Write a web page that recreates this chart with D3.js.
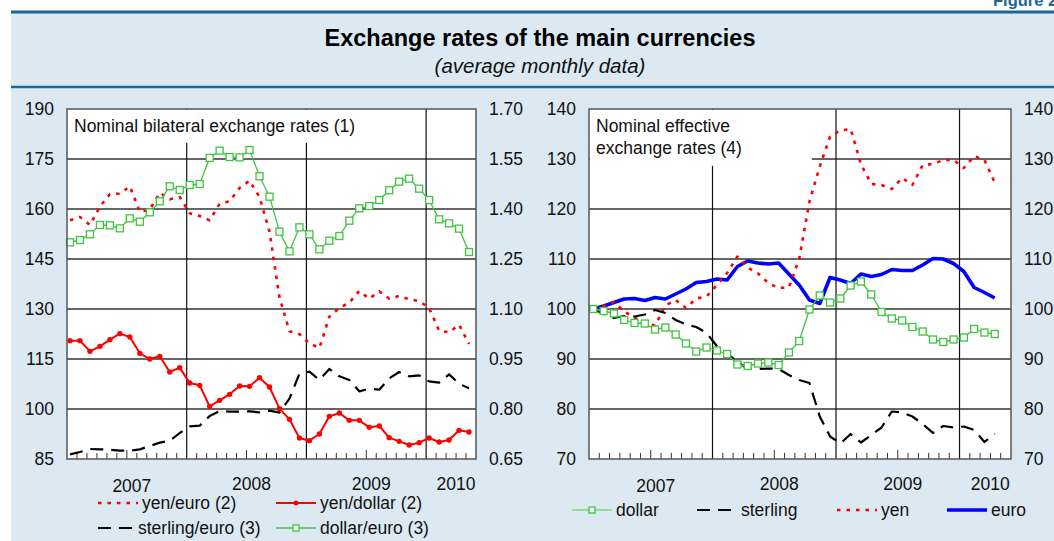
<!DOCTYPE html>
<html>
<head>
<meta charset="utf-8">
<script src="https://cdn.jsdelivr.net/npm/d3@7"></script>
<style>
    body { margin: 0; background: #fff; }
    svg { display: block; font-family: "Liberation Sans", Arial, sans-serif; }
    .tick_label, .year_label, .legend_label, .panel_label { font-size: 17.5px; fill: #111; }
</style>
</head>
<body>
<div id="chart"></div>
<script>

// Jan 2007 .. May 2010, monthly averages
const years = ['2007', '2008', '2009', '2010'];

// left panel, left axis
const yenEuro = [156.6, 157.6, 155.2, 160.7, 164.5, 164.6, 166.8, 159.1, 159.8, 164.9, 162.9, 163.6,
                 158.7, 157.9, 156.6, 161.6, 162.3, 166.3, 168.5, 163.6, 153.2, 133.5, 123.3, 122.5,
                 119.7, 118.3, 127.7, 130.3, 131.9, 135.4, 133.1, 135.3, 133.1, 133.9, 132.9, 132.4,
                 130.3, 123.5, 123.0, 125.3, 119.5];
const yenDollar = [120.5, 120.5, 117.3, 118.8, 120.8, 122.6, 121.6, 116.7, 115.0, 115.8, 111.1, 112.4,
                   107.8, 107.1, 100.8, 102.6, 104.4, 106.9, 106.8, 109.4, 106.6, 100.1, 96.9, 91.3,
                   90.5, 92.5, 97.8, 98.8, 96.6, 96.6, 94.5, 94.9, 91.4, 90.3, 89.2, 89.9,
                   91.3, 90.1, 90.7, 93.6, 93.1];
// left panel, right axis
const sterlingEuro = [0.664, 0.671, 0.680, 0.679, 0.678, 0.675, 0.675, 0.679, 0.689, 0.699, 0.705, 0.728,
                      0.748, 0.750, 0.779, 0.794, 0.792, 0.792, 0.793, 0.790, 0.795, 0.789, 0.831, 0.906,
                      0.912, 0.887, 0.920, 0.898, 0.887, 0.853, 0.861, 0.858, 0.892, 0.911, 0.898, 0.901,
                      0.883, 0.879, 0.904, 0.876, 0.862];
const dollarEuro = [1.300, 1.307, 1.324, 1.352, 1.351, 1.342, 1.372, 1.362, 1.390, 1.423, 1.468, 1.457,
                    1.472, 1.475, 1.553, 1.575, 1.556, 1.555, 1.577, 1.498, 1.437, 1.332, 1.273, 1.345,
                    1.324, 1.279, 1.305, 1.319, 1.365, 1.402, 1.409, 1.427, 1.456, 1.482, 1.491, 1.461,
                    1.427, 1.369, 1.357, 1.341, 1.271];

// right panel, Jan 2007 = 100, Jan 2007 .. Apr 2010
const dollarNeer = [100, 99.6, 99.1, 97.8, 97.2, 97.1, 95.9, 96.3, 94.9, 93.1, 91.5, 92.3,
                    91.7, 91.0, 88.9, 88.6, 89.1, 89.3, 88.8, 91.3, 93.6, 99.9, 102.7, 101.3,
                    102.1, 104.7, 105.5, 102.9, 99.4, 98.1, 97.7, 96.4, 95.5, 93.9, 93.4, 93.9,
                    94.3, 96.0, 95.3, 95.0];
const sterlingNeer = [100, 99.0, 98.2, 98.6, 98.5, 98.9, 99.8, 99.2, 97.8, 96.9, 96.4, 95.2,
                      92.6, 91.0, 89.5, 88.0, 88.0, 88.1, 88.0, 86.8, 85.8, 85.2, 78.5, 74.5,
                      73.1, 75.0, 73.3, 74.8, 76.3, 79.5, 79.3, 78.5, 77.0, 75.2, 76.6, 76.3,
                      76.5, 75.8, 73.4, 75.0];
const yenNeer = [100, 100.6, 101.4, 99.5, 98.3, 97.2, 96.7, 100.7, 101.8, 100.2, 102.1, 102.5,
                 104.8, 107.2, 110.5, 108.3, 107.1, 105.2, 104.2, 104.3, 110.0, 121.5, 128.5, 134.5,
                 135.7, 136.0, 129.0, 125.0, 124.8, 124.0, 126.2, 124.8, 128.8, 129.0, 129.8, 129.8,
                 128.2, 130.6, 129.8, 125.3];
const euroNeer = [100, 100.6, 101.3, 102.0, 102.1, 101.7, 102.3, 102.0, 103.0, 104.0, 105.3, 105.5,
                  106.0, 105.8, 108.5, 109.6, 109.2, 109.0, 109.2, 107.0, 104.8, 101.8, 101.1, 106.3,
                  105.8, 105.1, 107.0, 106.5, 106.9, 107.9, 107.7, 107.7, 108.8, 110.1, 110.0, 109.1,
                  107.5, 104.3, 103.3, 102.2];

const leftTicks = [85, 100, 115, 130, 145, 160, 175, 190];
const leftTicks2 = [0.65, 0.80, 0.95, 1.10, 1.25, 1.40, 1.55, 1.70];
const rightTicks = [70, 80, 90, 100, 110, 120, 130, 140];

const n_months = 41;
const blue_dark = '#1f6690';
const green = '#3ec43e';

const styles = {
    dotted: {stroke: '#ff0000', width: 2.6, dash: '3.5,6'},
    dashed: {stroke: '#000', width: 2.2, dash: '13,8'},
    marked: {stroke: '#ff0000', width: 2, dash: null},
    squares: {stroke: green, width: 1.3, dash: null},
    thick: {stroke: '#0000ff', width: 3.6, dash: null}
};

const svg = d3.select('#chart').append('svg')
    .attr('width', 1054)
    .attr('height', 541)
    .attr('viewBox', [0, 0, 1054, 541]);

// page frame
svg.append('rect').attr('x', 11).attr('y', 12).attr('width', 1054 - 11).attr('height', 541 - 12)
    .attr('fill', '#dde9f2');
svg.append('line').attr('x1', 11).attr('x2', 1054).attr('y1', 12).attr('y2', 12)
    .attr('stroke', blue_dark).attr('stroke-width', 3);
svg.append('line').attr('x1', 11).attr('x2', 1054).attr('y1', 87).attr('y2', 87)
    .attr('stroke', blue_dark).attr('stroke-width', 2.5);
svg.append('text').attr('x', 993).attr('y', 6)
    .attr('font-size', 16.5).attr('font-weight', 'bold').attr('fill', blue_dark)
    .text('Figure 2');
svg.append('text').attr('x', 540).attr('y', 46).attr('text-anchor', 'middle')
    .attr('font-size', 23.5).attr('font-weight', 'bold').attr('fill', '#000')
    .text('Exchange rates of the main currencies');
svg.append('text').attr('x', 540).attr('y', 73).attr('text-anchor', 'middle')
    .attr('font-size', 20.5).attr('font-style', 'italic').attr('fill', '#111')
    .text('(average monthly data)');

function drawPanel(p) {
    const g = svg.append('g');
    const x = d3.scaleLinear().domain([0, n_months]).range([p.left, p.right]);
    const y1 = d3.scaleLinear().domain(d3.extent(p.ticks1)).range([p.bottom, p.top]);
    const y2 = d3.scaleLinear().domain(d3.extent(p.ticks2)).range([p.bottom, p.top]);

    g.append('rect')
        .attr('x', p.left).attr('y', p.top)
        .attr('width', p.right - p.left).attr('height', p.bottom - p.top)
        .attr('fill', '#fff');

    // horizontal grid
    g.selectAll('line.grid_h')
        .data(p.ticks1.slice(1, -1))
        .join('line')
        .classed('grid_h', true)
        .attr('x1', p.left).attr('x2', p.right)
        .attr('y1', d => y1(d)).attr('y2', d => y1(d))
        .attr('stroke', '#333').attr('stroke-width', 1.4);

    // year separators and month ticks
    const months = d3.range(1, n_months);
    g.selectAll('line.year_sep')
        .data(months.filter(k => k % 12 === 0))
        .join('line')
        .classed('year_sep', true)
        .attr('x1', d => x(d)).attr('x2', d => x(d))
        .attr('y1', p.top).attr('y2', p.bottom)
        .attr('stroke', '#111').attr('stroke-width', 1.2);
    g.selectAll('line.month_tick')
        .data(months.filter(k => k % 12 !== 0))
        .join('line')
        .classed('month_tick', true)
        .attr('x1', d => x(d)).attr('x2', d => x(d))
        .attr('y1', p.bottom).attr('y2', d => p.bottom - (d % 12 === 6 ? 9 : 6))
        .attr('stroke', '#333').attr('stroke-width', 1);

    // label box
    g.append('rect')
        .attr('x', p.left + 0.8).attr('y', p.top + 0.8)
        .attr('width', p.box.w).attr('height', p.box.h)
        .attr('fill', '#fff');
    g.selectAll('text.panel_label')
        .data(p.label)
        .join('text')
        .classed('panel_label', true)
        .attr('font-size', 18.5)
        .attr('x', p.left + 7)
        .attr('y', (d, i) => p.top + 23 + i * 22)
        .text(d => d);

    // series
    p.series.forEach(s => {
        const ys = s.axis === 2 ? y2 : y1;
        const st = styles[s.style];
        const line = d3.line()
            .x((d, i) => x(i + p.offset))
            .y(d => ys(d));
        g.append('path')
            .datum(s.values)
            .attr('d', line)
            .attr('fill', 'none')
            .attr('stroke', st.stroke)
            .attr('stroke-width', st.width)
            .attr('stroke-dasharray', st.dash)
            .attr('stroke-linejoin', 'round');

        if (s.style === 'squares') {
            g.selectAll(null)
                .data(s.values)
                .join('rect')
                .attr('x', (d, i) => x(i + p.offset) - 3.5)
                .attr('y', d => ys(d) - 3.5)
                .attr('width', 7).attr('height', 7)
                .attr('fill', '#fff')
                .attr('stroke', green).attr('stroke-width', 1.3);
        } else if (s.style === 'marked') {
            g.selectAll(null)
                .data(s.values)
                .join('circle')
                .attr('cx', (d, i) => x(i + p.offset))
                .attr('cy', d => ys(d))
                .attr('r', 2.7)
                .attr('fill', '#ff0000');
        }
    });

    // frame
    g.append('rect')
        .attr('x', p.left).attr('y', p.top)
        .attr('width', p.right - p.left).attr('height', p.bottom - p.top)
        .attr('fill', 'none')
        .attr('stroke', '#555').attr('stroke-width', 1.5);

    // tick labels
    g.selectAll('text.tick_left')
        .data(p.ticks1)
        .join('text')
        .attr('class', 'tick_label')
        .attr('x', p.left - 13).attr('y', d => y1(d))
        .attr('dy', '0.35em').attr('text-anchor', 'end')
        .text(d => d3.format(p.fmt1)(d));
    g.selectAll('text.tick_right')
        .data(p.ticks2)
        .join('text')
        .attr('class', 'tick_label')
        .attr('x', p.right + 13).attr('y', d => y2(d))
        .attr('dy', '0.35em')
        .text(d => d3.format(p.fmt2)(d));

    g.selectAll('text.year_label')
        .data(years)
        .join('text')
        .classed('year_label', true)
        .attr('x', (d, i) => (x(i * 12) + x(Math.min((i + 1) * 12, n_months))) / 2 + 5)
        .attr('y', (d, i) => i === 0 ? 492 : 490)
        .attr('text-anchor', 'middle')
        .text(d => d);
}

function drawLegend(items) {
    items.forEach(it => {
        const st = styles[it.style];
        const g = svg.append('g').attr('transform', 'translate(' + it.x + ',' + it.y + ')');
        g.append('line')
            .attr('x1', 0).attr('x2', it.w)
            .attr('stroke', it.color || st.stroke)
            .attr('stroke-width', st.width)
            .attr('stroke-dasharray', st.dash);
        if (it.style === 'squares')
            g.append('rect').attr('x', it.w / 2 - 3).attr('y', -3).attr('width', 6).attr('height', 6)
                .attr('fill', '#fff').attr('stroke', green).attr('stroke-width', 1.3);
        if (it.style === 'marked')
            g.append('circle').attr('cx', it.w / 2).attr('r', 2.5).attr('fill', '#ff0000');
        g.append('text')
            .classed('legend_label', true)
            .attr('x', it.w + 4).attr('dy', '0.35em')
            .text(it.label);
    });
}

drawPanel({
    left: 67, right: 476, top: 109, bottom: 459, offset: 0.3,
    ticks1: leftTicks, ticks2: leftTicks2, fmt1: 'd', fmt2: '.2f',
    label: ['Nominal bilateral exchange rates (1)'],
    box: {w: 330, h: 33},
    series: [
        {values: yenEuro, axis: 1, style: 'dotted'},
        {values: yenDollar, axis: 1, style: 'marked'},
        {values: sterlingEuro, axis: 2, style: 'dashed'},
        {values: dollarEuro, axis: 2, style: 'squares'}
    ]
});

drawPanel({
    left: 589, right: 1011, top: 109, bottom: 459, offset: 0.42,
    ticks1: rightTicks, ticks2: rightTicks, fmt1: 'd', fmt2: 'd',
    label: ['Nominal effective', 'exchange rates (4)'],
    box: {w: 222, h: 56},
    series: [
        {values: euroNeer, axis: 1, style: 'thick'},
        {values: yenNeer, axis: 1, style: 'dotted'},
        {values: sterlingNeer, axis: 1, style: 'dashed'},
        {values: dollarNeer, axis: 1, style: 'squares'}
    ]
});

drawLegend([
    {x: 98, y: 503, w: 40, style: 'dotted', label: 'yen/euro (2)'},
    {x: 276, y: 503, w: 40, style: 'marked', label: 'yen/dollar (2)'},
    {x: 98, y: 528, w: 36, style: 'dashed', label: 'sterling/euro (3)'},
    {x: 276, y: 528, w: 40, style: 'squares', label: 'dollar/euro (3)'},
    {x: 572, y: 510, w: 40, style: 'squares', color: '#7ad87a', label: 'dollar'},
    {x: 697, y: 510, w: 40, style: 'dashed', label: 'sterling'},
    {x: 837, y: 510, w: 40, style: 'dotted', label: 'yen'},
    {x: 947, y: 510, w: 40, style: 'thick', label: 'euro'}
]);

</script>
</body>
</html>
